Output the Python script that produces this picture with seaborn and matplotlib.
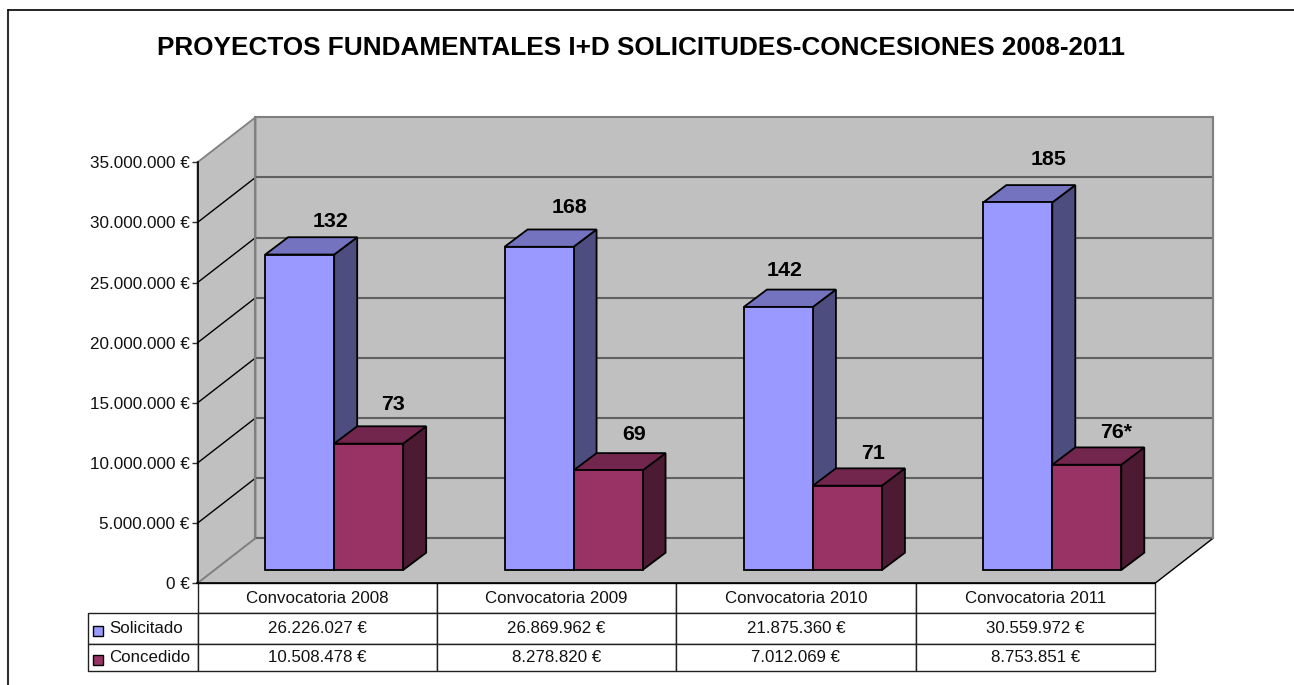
"""
Proyectos fundamentales I+D: solicitudes y concesiones 2008-2011.
Barras con falso 3D a partir de los patches de seaborn.
"""

import pandas as pd
import matplotlib
matplotlib.use('Agg')
import matplotlib.pyplot as plt
import seaborn as sns
from matplotlib.lines import Line2D
from matplotlib.patches import Polygon, Rectangle
from matplotlib.ticker import FuncFormatter
from matplotlib.transforms import ScaledTranslation

titulo = 'PROYECTOS FUNDAMENTALES I+D SOLICITUDES-CONCESIONES 2008-2011'
convocatorias = ['Convocatoria 2008', 'Convocatoria 2009', 'Convocatoria 2010', 'Convocatoria 2011']
series = ['Solicitado', 'Concedido']
solicitado = [26226027, 26869962, 21875360, 30559972]
concedido = [10508478, 8278820, 7012069, 8753851]
num_solicitado = ['132', '168', '142', '185']
num_concedido = ['73', '69', '71', '76*']
ticks = [0, 5000000, 10000000, 15000000, 20000000, 25000000, 30000000, 35000000]

# colores: frente, lateral, tapa
colores = {
    'Solicitado': ('#9999FF', '#4D4D80', '#7373BF'),
    'Concedido': ('#993366', '#4D1A33', '#73264D'),
}

# desplazamiento de las etiquetas respecto al centro del frente de la barra (px)
etq_dx = [31, 30, 6, 31, 24, 26, 26, 29]
etq_dy = [33, 39, 36, 43, 39, 36, 32, 32]

W, H = 1294, 685
X0, X1, Y0, Y1 = 197.5, 1155, 583.3, 162.3
FONDO_X, FONDO_Y = 58, 45      # profundidad del suelo
BARRA_X, BARRA_Y = 17, 13.3    # separacion de las barras respecto al plano frontal
PROF_X, PROF_Y = 23, 17.3      # profundidad de cada barra


def euros(v, pos=None):
    return f'{int(v):,}'.replace(',', '.') + ' €'


def fx(x):
    return x / W


def fy(y):
    return 1 - y / H


sns.set_theme(style='white')
plt.rcParams['font.family'] = ['Liberation Sans', 'DejaVu Sans']

df = pd.DataFrame({
    'Convocatoria': convocatorias * 2,
    'Serie': ['Solicitado'] * 4 + ['Concedido'] * 4,
    'Importe': solicitado + concedido,
})

fig = plt.figure(figsize=(W / 100, H / 100), dpi=100, facecolor='white')
ax = fig.add_axes([fx(X0), fy(Y0), fx(X1 - X0), (Y0 - Y1) / H])

sns.barplot(data=df, x='Convocatoria', y='Importe', hue='Serie', hue_order=series,
            palette={s: colores[s][0] for s in series}, width=138 / 239.4, gap=0,
            edgecolor='black', linewidth=1.3, saturation=1, legend=False, ax=ax)

ax.set_xlim(-0.5, 3.5)
ax.set_ylim(0, 35000000)
ax.patch.set_visible(False)

# paso de pixeles a unidades de datos
ux = 4 / (X1 - X0)
uy = 35000000 / (Y0 - Y1)
xa, xb = -0.5, 3.5
top = 35000000
fdx, fdy = FONDO_X * ux, FONDO_Y * uy

barras = list(ax.patches)

# paredes y suelo
gris = '#C0C0C0'
borde = '#808080'
ax.add_patch(Polygon([(xa + fdx, fdy), (xb + fdx, fdy), (xb + fdx, top + fdy), (xa + fdx, top + fdy)],
                     fc=gris, ec=borde, lw=1.5, zorder=0, clip_on=False))
ax.add_patch(Polygon([(xa, 0), (xa + fdx, fdy), (xa + fdx, top + fdy), (xa, top)],
                     fc=gris, ec=borde, lw=1.3, zorder=0, clip_on=False))
ax.add_patch(Polygon([(xa, 0), (xb, 0), (xb + fdx, fdy), (xa + fdx, fdy)],
                     fc=gris, ec=gris, lw=0.5, zorder=0, clip_on=False))
ax.plot([xa, xa + fdx], [0, fdy], color=borde, lw=1.3, zorder=1, clip_on=False)
ax.plot([xb, xb + fdx], [0, fdy], color='black', lw=1, zorder=1, clip_on=False)

# rejilla: diagonal en el lateral y horizontal en el fondo
for v in ticks:
    if v < top:
        ax.plot([xa + fdx, xb + fdx], [v + fdy, v + fdy], color='#606060', lw=1.5, zorder=1, clip_on=False)
    if 0 < v < top:
        ax.plot([xa, xa + fdx], [v, v + fdy], color='black', lw=1, zorder=1, clip_on=False)
ax.plot([xa + fdx, xa + fdx], [fdy, top + fdy], color=borde, lw=1.5, zorder=1.5, clip_on=False)
ax.plot([xb + fdx, xb + fdx], [fdy, top + fdy], color=borde, lw=1.5, zorder=1.5, clip_on=False)

# barras: los patches de seaborn se desplazan y se les anaden lateral y tapa
t_barra = ax.transData + ScaledTranslation(BARRA_X / 100, BARRA_Y / 100, fig.dpi_scale_trans)
dx, dy = PROF_X * ux, PROF_Y * uy
textos = num_solicitado + num_concedido

for i, p in enumerate(barras):
    serie = series[i // 4]
    z = 3 + i // 4
    x, w, h = p.get_x(), p.get_width(), p.get_height()
    p.set_transform(t_barra)
    p.set_zorder(z + 0.2)
    p.set_clip_on(False)
    lateral = Polygon([(x + w, 0), (x + w + dx, dy), (x + w + dx, h + dy), (x + w, h)],
                      fc=colores[serie][1], ec='black', lw=1.3, zorder=z, clip_on=False, transform=t_barra)
    tapa = Polygon([(x, h), (x + w, h), (x + w + dx, h + dy), (x + dx, h + dy)],
                   fc=colores[serie][2], ec='black', lw=1.3, zorder=z + 0.1, clip_on=False, transform=t_barra)
    ax.add_artist(lateral)
    ax.add_artist(tapa)
    ax.annotate(textos[i], xy=(x + w / 2, h), xycoords=t_barra, xytext=(etq_dx[i], etq_dy[i]),
                textcoords='offset pixels', ha='center', va='center', fontsize=15.4,
                fontweight='bold', color='black', zorder=6)

# ejes
ax.set_xlabel('')
ax.set_ylabel('')
ax.set_xticks([])
ax.set_yticks(ticks)
ax.yaxis.set_major_formatter(FuncFormatter(euros))
ax.tick_params(axis='y', left=True, length=4.3, width=1, color='#303030', pad=1.5, labelsize=12.3, labelcolor='#111111')
for lado in ['top', 'right']:
    ax.spines[lado].set_visible(False)
for lado in ['left', 'bottom']:
    ax.spines[lado].set_color('black')
    ax.spines[lado].set_linewidth(1.2)
    ax.spines[lado].set_zorder(2)

# tabla de datos: el bbox solo cubre las columnas de datos, la de etiquetas queda a la izquierda
ancho_etq = (X0 - 88.3) / (X1 - X0)
altos = [30 / 421, 30.4 / 421, 27.3 / 421]
filas = [[euros(v) for v in solicitado], [euros(v) for v in concedido]]
tabla = ax.table(cellText=filas, colLabels=convocatorias, cellLoc='center', colWidths=[0.25] * 4,
                 bbox=[0, -sum(altos), 1, sum(altos)])
for r, serie in enumerate(series, start=1):
    celda = tabla.add_cell(r, -1, ancho_etq, altos[r], text=serie, loc='left')
    celda.PAD = 21 / 109.2
tabla.auto_set_font_size(False)
tabla.set_fontsize(12.2)
for (r, c), celda in tabla.get_celld().items():
    celda.set_height(altos[r])
    celda.set_linewidth(1)
    celda.set_edgecolor('#202020')
    celda.get_text().set_color('#111111')

# muestras de color de la leyenda dentro de la tabla
for serie, y_px in zip(series, [626, 654.5]):
    fig.add_artist(Rectangle((fx(93.3), fy(y_px + 10)), 10 / W, 10 / H, transform=fig.transFigure,
                             fc=colores[serie][0], ec='black', lw=1))

fig.text(fx(641), fy(48), titulo, ha='center', va='center', fontsize=18.8, fontweight='bold', color='black')

# marco exterior (recortado por abajo y a la derecha)
fig.add_artist(Line2D([fx(8), fx(8)], [0, fy(10)], color='#303030', lw=1.5))
fig.add_artist(Line2D([fx(8), 1], [fy(10), fy(10)], color='black', lw=1.2))

plt.savefig('out.png', dpi=100)
